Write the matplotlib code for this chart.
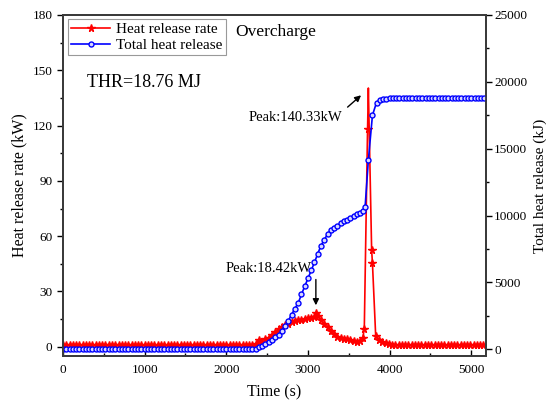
import numpy as np
import matplotlib.pyplot as plt

plt.rcParams['font.family'] = ['Liberation Serif', 'DejaVu Serif']

# ==== данные ==== #
# скорость тепловыделения (HRR), кВт
t_hrr = [0, 40, 80, 120, 160, 200, 240, 280, 320, 360, 400, 440, 480, 520, 560,
         600, 640, 680, 720, 760, 800, 840, 880, 920, 960, 1000, 1040, 1080, 1120,
         1160, 1200, 1240, 1280, 1320, 1360, 1400, 1440, 1480, 1520, 1560, 1600,
         1640, 1680, 1720, 1760, 1800, 1840, 1880, 1920, 1960, 2000, 2040, 2080,
         2120, 2160, 2200, 2240, 2280, 2320,
         2360, 2400, 2440, 2480, 2520, 2560, 2600, 2640, 2680, 2720, 2760, 2800,
         2840, 2880, 2920, 2960, 3000, 3040, 3080, 3100, 3120, 3160, 3200, 3240,
         3280, 3320, 3360, 3400, 3440, 3480, 3520, 3560, 3600, 3640, 3670, 3690,
         3730, 3740, 3780, 3790, 3830, 3870, 3910, 3950, 3990, 4030,
         4070, 4110, 4150, 4190, 4230, 4270, 4310, 4350, 4390, 4430, 4470, 4510,
         4550, 4590, 4630, 4670, 4710, 4750, 4790, 4830, 4870, 4910, 4950, 4990,
         5030, 5070, 5110, 5150]
hrr = [1.0, 1.0, 1.0, 1.0, 1.0, 1.0, 1.0, 1.0, 1.0, 1.0, 1.0, 1.0, 1.0, 1.0, 1.0,
       1.0, 1.0, 1.0, 1.0, 1.0, 1.0, 1.0, 1.0, 1.0, 1.0, 1.0, 1.0, 1.0, 1.0,
       1.0, 1.0, 1.0, 1.0, 1.0, 1.0, 1.0, 1.0, 1.0, 1.0, 1.0, 1.0,
       1.0, 1.0, 1.0, 1.0, 1.0, 1.0, 1.0, 1.0, 1.0, 1.0, 1.0, 1.0,
       1.0, 1.0, 1.0, 1.0, 1.0, 1.0,
       1.5, 3.5, 2.2, 4.0, 5.0, 6.5, 8.0, 9.5, 10.8, 11.8, 12.6, 13.2,
       13.8, 14.3, 14.8, 15.2, 15.5, 15.8, 16.2, 18.42, 16.5, 14.5, 12.5, 10.5,
       8.5, 6.8, 5.5, 4.8, 4.4, 4.2, 3.9, 3.2, 2.8, 3.0, 4.5, 9.6,
       118.0, 140.33, 52.5, 45.3, 5.6, 3.5, 2.4, 1.8, 1.4, 1.2,
       1.0, 1.0, 1.0, 1.0, 1.0, 1.0, 1.0, 1.0, 1.0, 1.0, 1.0, 1.0,
       1.0, 1.0, 1.0, 1.0, 1.0, 1.0, 1.0, 1.0, 1.0, 1.0, 1.0, 1.0,
       1.0, 1.0, 1.0, 1.0]

# суммарное тепловыделение (THR), кДж
t_thr = [0, 40, 80, 120, 160, 200, 240, 280, 320, 360, 400, 440, 480, 520, 560,
         600, 640, 680, 720, 760, 800, 840, 880, 920, 960, 1000, 1040, 1080, 1120,
         1160, 1200, 1240, 1280, 1320, 1360, 1400, 1440, 1480, 1520, 1560, 1600,
         1640, 1680, 1720, 1760, 1800, 1840, 1880, 1920, 1960, 2000, 2040, 2080,
         2120, 2160, 2200, 2240, 2280, 2320,
         2360, 2400, 2440, 2480, 2520, 2560, 2600, 2640, 2680, 2720, 2760, 2800,
         2840, 2880, 2920, 2960, 3000, 3040, 3080, 3120, 3160, 3200, 3240, 3280,
         3320, 3360, 3400, 3440, 3480, 3520, 3560, 3600, 3640, 3680, 3700, 3740,
         3790, 3840, 3880, 3920, 3960, 4000, 4040, 4080, 4120, 4160, 4200, 4240,
         4280, 4320, 4360, 4400, 4440, 4480, 4520, 4560, 4600, 4640, 4680, 4720,
         4760, 4800, 4840, 4880, 4920, 4960, 5000, 5040, 5080, 5120, 5160]
thr = [0, 0, 0, 0, 0, 0, 0, 0, 0, 0, 0, 0, 0, 0, 0,
       0, 0, 0, 0, 0, 0, 0, 0, 0, 0, 0, 0, 0, 0,
       0, 0, 0, 0, 0, 0, 0, 0, 0, 0, 0, 0,
       0, 0, 0, 0, 0, 0, 0, 0, 0, 0, 0, 0,
       0, 0, 0, 0, 0, 0,
       50, 150, 250, 380, 520, 700, 900, 1100, 1400, 1750, 2150, 2600,
       3050, 3450, 4100, 4700, 5300, 5900, 6500, 7150, 7750, 8200, 8600, 8900,
       9100, 9250, 9420, 9560, 9700, 9830, 9960, 10080, 10200, 10350, 10650, 14150,
       17500, 18450, 18620, 18700, 18740, 18760, 18760, 18760, 18760, 18760, 18760, 18760,
       18760, 18760, 18760, 18760, 18760, 18760, 18760, 18760, 18760, 18760, 18760, 18760,
       18760, 18760, 18760, 18760, 18760, 18760, 18760, 18760, 18760, 18760, 18760]

# ==== график ==== #
fig = plt.figure(figsize=(5.46, 4.03), dpi=100)
ax = fig.add_axes([0.1154, 0.1166, 0.7746, 0.8464])
ax2 = ax.twinx()

peak_i = hrr.index(max(hrr))
mark_i = [i for i in range(len(hrr)) if i != peak_i]
l1, = ax.plot(t_hrr, hrr, color='red', lw=1.2, marker='*', ms=5.5,
              markevery=mark_i, label='Heat release rate')
l2, = ax2.plot(t_thr, thr, color='blue', lw=1.2, marker='o', ms=3.6,
               mfc='#d8d8ff', mec='blue', mew=1.0, label='Total heat release')

ax.set_xlim(0, 5180)
ax.set_ylim(-5, 180)
ax2.set_ylim(-500, 25000)

ax.set_xticks([0, 1000, 2000, 3000, 4000, 5000])
ax.set_xticks(np.arange(500, 5180, 1000), minor=True)
ax.set_yticks([0, 30, 60, 90, 120, 150, 180])
ax.set_yticks([15, 45, 75, 105, 135, 165], minor=True)
ax2.set_yticks([0, 5000, 10000, 15000, 20000, 25000])
ax2.set_yticks([2500, 7500, 12500, 17500, 22500], minor=True)

ax.tick_params(axis='x', direction='in', length=4, width=1, labelsize=9.5, pad=6)
ax.tick_params(axis='x', which='minor', direction='in', length=2.5, width=1)
ax.tick_params(axis='y', direction='out', length=4, width=1, labelsize=9.5)
ax.tick_params(axis='y', which='minor', direction='out', length=2.5, width=1)
ax2.tick_params(axis='y', direction='out', length=4, width=1, labelsize=9.5, pad=2)
ax2.tick_params(axis='y', which='minor', direction='out', length=2.5, width=1)

for a in (ax, ax2):
    for s in a.spines.values():
        s.set_color('#3a3a3a')
        s.set_linewidth(1.3)

ax.set_xlabel('Time (s)', fontsize=11.5, labelpad=6)
ax.set_ylabel('Heat release rate (kW)', fontsize=11.5, labelpad=4)
ax2.set_ylabel('Total heat release (kJ)', fontsize=11, labelpad=4)

leg = ax2.legend(handles=[l1, l2], loc='upper left', fontsize=11,
                 handlelength=2.6, borderpad=0.2, labelspacing=0.15,
                 handletextpad=0.4, borderaxespad=0.3, fancybox=False,
                 framealpha=1)
leg.get_frame().set_edgecolor('#999999')
leg.get_frame().set_linewidth(0.8)

ax.text(0.504, 0.95, 'Overcharge', transform=ax.transAxes, fontsize=12.5,
        ha='center', va='center')
ax.text(0.057, 0.803, 'THR=18.76 MJ', transform=ax.transAxes, fontsize=13,
        ha='left', va='center')

ax.text(2852, 124.5, 'Peak:140.33kW', fontsize=10.5, ha='center', va='center')
ax.annotate('', xy=(3676, 137.4), xytext=(3460, 129.0),
            arrowprops=dict(arrowstyle='-|>', color='black', lw=1,
                            mutation_scale=9))
ax.text(2521, 42.2, 'Peak:18.42kW', fontsize=10.5, ha='center', va='center')
ax.annotate('', xy=(3097, 21.0), xytext=(3097, 38.0),
            arrowprops=dict(arrowstyle='-|>', color='black', lw=1,
                            mutation_scale=9))

fig.savefig('out.png', dpi=100)
